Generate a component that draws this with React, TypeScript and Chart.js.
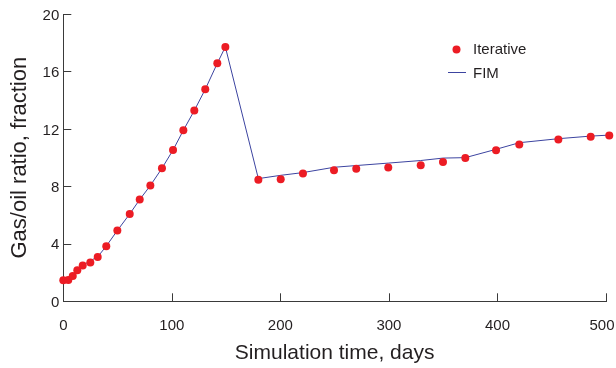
import React, { useEffect, useRef } from 'react';
import { Chart, registerables } from 'chart.js';

Chart.register(...registerables);

// Iterative (markers)
const iterTime = [0, 4.6, 8.7, 12.9, 17.9, 24.9, 31.7, 39.6, 49.8, 61.2, 70.4, 80.2, 90.9, 101.1, 110.6, 120.7, 130.8, 141.9, 149.3,
  179.7, 200.3, 220.8, 249.4, 269.9, 299.4, 329.3, 349.8, 370.4, 398.7, 420.1, 456.1, 485.9, 503];
const iterGor = [1.46, 1.48, 1.76, 2.17, 2.5, 2.7, 3.08, 3.84, 4.93, 6.08, 7.08, 8.06, 9.26, 10.53, 11.9, 13.28, 14.76, 16.57, 17.71,
  8.47, 8.5, 8.89, 9.12, 9.22, 9.31, 9.47, 9.69, 9.97, 10.51, 10.92, 11.27, 11.46, 11.55];

// FIM (line)
const fimTime = [0, 4.6, 8.7, 12.9, 17.9, 24.9, 31.7, 39.6, 49.8, 61.2, 70.4, 80.2, 90.9, 101.1, 110.6, 120.7, 130.8, 141.9, 149.3,
  179.7, 200.3, 220.8, 249.4, 269.9, 299.4, 329.3, 349.8, 370.4, 398.7, 420.1, 456.1, 485.9, 503];
const fimGor = [1.46, 1.48, 1.76, 2.17, 2.5, 2.82, 3.1, 3.84, 4.93, 6.08, 7.08, 8.06, 9.26, 10.53, 11.9, 13.28, 14.76, 16.57, 17.71,
  8.54, 8.77, 8.96, 9.33, 9.45, 9.62, 9.8, 9.97, 10.0, 10.58, 11.04, 11.32, 11.5, 11.57];

const xTicks = [0, 100, 200, 300, 400, 500];
const yTicks = [0, 4, 8, 12, 16, 20];

const xTitle = 'Simulation time, days';
const yTitle = 'Gas/oil ratio, fraction';
const legendLabels = ['Iterative', 'FIM'];

const RED = '#ec1c24';
const BLUE = '#3c44a0';
const TEXT = '#231f20';
const AXIS = '#3a3a3a';
const FONT = "'Liberation Sans', Arial, sans-serif";

// keep the last x tick label inside the canvas, as in the original figure
const lastLabelShift = {
  id: 'lastLabelShift',
  beforeDraw(chart: any) {
    const sx = chart.scales.x;
    const items = sx.getLabelItems(chart.chartArea);
    const last = items[items.length - 1];
    if (last && last.options && last.options.translation) {
      const right = last.options.translation[0] + 12;
      if (right > chart.width - 2) last.options.translation[0] -= right - (chart.width - 2);
    }
  },
};

const innerTicks = {
  id: 'innerTicks',
  afterDatasetsDraw(chart: any) {
    const { ctx, chartArea, scales } = chart;
    ctx.save();
    ctx.strokeStyle = AXIS;
    ctx.lineWidth = 1;
    ctx.beginPath();
    for (const v of xTicks) {
      if (v === 0) continue;
      const px = Math.round(scales.x.getPixelForValue(v)) + 0.5;
      ctx.moveTo(px, chartArea.bottom);
      ctx.lineTo(px, chartArea.bottom - 8);
    }
    for (const v of yTicks) {
      if (v === 0) continue;
      const py = Math.round(scales.y.getPixelForValue(v)) + 0.5;
      ctx.moveTo(chartArea.left, py);
      ctx.lineTo(chartArea.left + 8, py);
    }
    ctx.stroke();
    ctx.restore();
  },
};

const insideLegend = {
  id: 'insideLegend',
  afterDraw(chart: any) {
    const { ctx } = chart;
    ctx.save();
    ctx.fillStyle = RED;
    ctx.beginPath();
    ctx.arc(456.5, 49.5, 4, 0, Math.PI * 2);
    ctx.fill();
    ctx.strokeStyle = BLUE;
    ctx.lineWidth = 1;
    ctx.beginPath();
    ctx.moveTo(448, 72.5);
    ctx.lineTo(466, 72.5);
    ctx.stroke();
    ctx.fillStyle = TEXT;
    ctx.font = `15px ${FONT}`;
    ctx.textBaseline = 'middle';
    ctx.textAlign = 'left';
    ctx.fillText(legendLabels[0], 473, 49.5);
    ctx.fillText(legendLabels[1], 473, 73.8);
    ctx.restore();
  },
};

export default function App() {
  const ref = useRef<HTMLCanvasElement>(null);

  useEffect(() => {
    if (!ref.current) return;
    const chart = new Chart(ref.current, {
      type: 'scatter',
      data: {
        datasets: [
          {
            label: legendLabels[0],
            data: iterTime.map((t, i) => ({ x: t, y: iterGor[i] })),
            showLine: false,
            pointRadius: 4,
            pointBorderWidth: 0,
            pointBackgroundColor: RED,
            pointBorderColor: RED,
            clip: false,
          } as any,
          {
            label: legendLabels[1],
            data: fimTime.map((t, i) => ({ x: t, y: fimGor[i] })),
            showLine: true,
            borderColor: BLUE,
            borderWidth: 1,
            pointRadius: 0,
            tension: 0,
            clip: false,
          } as any,
        ],
      },
      options: {
        responsive: false,
        animation: false,
        devicePixelRatio: 1,
        layout: { padding: { top: 14, right: 10, left: 0, bottom: 0 } },
        plugins: {
          legend: { display: false },
          tooltip: { enabled: false },
        },
        scales: {
          x: {
            type: 'linear',
            min: 0,
            max: 500,
            afterBuildTicks: (s: any) => {
              s.ticks = xTicks.map((v) => ({ value: v }));
            },
            afterFit: (s: any) => {
              s.height = 66.7;
              s.paddingLeft = 0;
              s.paddingRight = 0;
            },
            grid: { display: false, drawTicks: false },
            border: { display: true, color: AXIS, width: 1 },
            ticks: {
              color: TEXT,
              font: { family: FONT, size: 15 },
              padding: 16,
              maxRotation: 0,
              autoSkip: false,
            },
            title: {
              display: true,
              text: xTitle,
              color: TEXT,
              font: { family: FONT, size: 21 },
              padding: { top: 0, bottom: 2 },
            },
          },
          y: {
            type: 'linear',
            min: 0,
            max: 20,
            afterBuildTicks: (s: any) => {
              s.ticks = yTicks.map((v) => ({ value: v }));
            },
            afterFit: (s: any) => {
              s.width = 63.3;
              s.paddingTop = 0;
              s.paddingBottom = 0;
            },
            grid: { display: false, drawTicks: false },
            border: { display: true, color: AXIS, width: 1 },
            ticks: {
              color: TEXT,
              font: { family: FONT, size: 15 },
              padding: 4,
              labelOffset: 1.5,
              autoSkip: false,
            },
            title: {
              display: true,
              text: yTitle,
              color: TEXT,
              font: { family: FONT, size: 22 },
              padding: { top: 6.5, bottom: 0 },
            },
          },
        },
      } as any,
      plugins: [lastLabelShift, innerTicks, insideLegend],
    });
    return () => chart.destroy();
  }, []);

  return (
    <div style={{ position: 'absolute', left: 0, top: 0, width: 616, height: 368, background: '#fff' }}>
      <canvas ref={ref} width={616} height={368} style={{ width: 616, height: 368, display: 'block' }} />
    </div>
  );
}
